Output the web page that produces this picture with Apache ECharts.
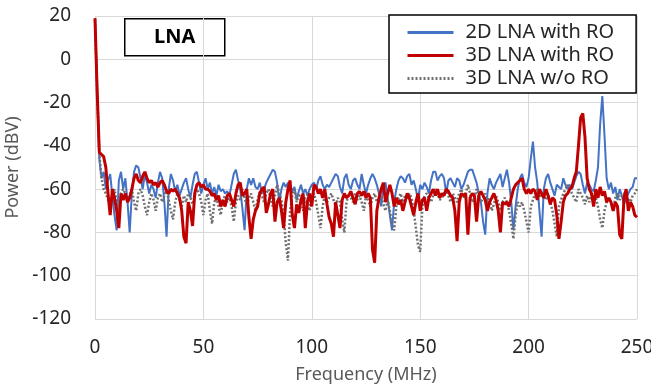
<!DOCTYPE html>
<html><head><meta charset="utf-8">
<script src="https://cdn.jsdelivr.net/npm/echarts@6/dist/echarts.min.js"></script>
<style>html,body{margin:0;padding:0;background:#fff}#c{width:651px;height:390px}</style>
</head><body><div id="c"></div>
<script>
// Frequency axis: one sample per MHz, 0..250
var freqStart = 0, freqStep = 1;
var yTicks = [-120, -100, -80, -60, -40, -20, 0, 20];
var xTicks = [0, 50, 100, 150, 200, 250];
var seriesNames = ['2D LNA with RO', '3D LNA with RO', '3D LNA w/o RO'];

var blue2D = [18,-14,-46,-55,-52,-60,-56,-53,-63,-72,-79,-56,-52,-60,-55,-66,-80,-62,-52,-49,
-50,-55,-60,-53,-57,-62,-58,-60,-64,-57,-52,-55,-66,-82,-60,-53,-56,-61,-58,-63,
-60,-57,-55,-60,-64,-58,-53,-52,-57,-62,-58,-55,-60,-57,-62,-59,-63,-58,-61,-60,
-62,-61,-63,-58,-53,-51,-56,-60,-69,-79,-60,-55,-58,-55,-59,-60,-57,-62,-60,-57,
-55,-53,-51,-52,-57,-66,-60,-57,-59,-57,-58,-61,-59,-65,-61,-58,-62,-60,-63,-60,
-58,-57,-60,-56,-54,-58,-60,-58,-59,-57,-55,-53,-54,-59,-62,-55,-53,-58,-60,-56,
-55,-58,-60,-53,-58,-62,-58,-55,-53,-55,-58,-62,-68,-58,-57,-64,-72,-79,-66,-60,
-56,-54,-55,-57,-54,-53,-58,-56,-60,-65,-58,-60,-57,-59,-62,-56,-52,-52,-56,-54,
-53,-55,-62,-56,-55,-57,-59,-55,-56,-60,-58,-55,-52,-51,-51,-54,-57,-62,-66,-75,
-81,-62,-55,-58,-60,-57,-55,-53,-59,-55,-51,-57,-66,-79,-68,-60,-55,-53,-57,-59,
-55,-46,-38,-50,-57,-70,-82,-60,-55,-53,-57,-60,-63,-58,-59,-60,-55,-58,-60,-58,
-60,-57,-54,-52,-53,-58,-62,-57,-58,-60,-61,-56,-50,-30,-17,-35,-55,-60,-57,-62,
-59,-65,-60,-63,-67,-64,-62,-60,-59,-55,-55];

var red3D = [19,-15,-43,-44,-45,-50,-62,-72,-60,-64,-70,-78,-62,-65,-62,-66,-64,-60,-55,-53,
-56,-57,-54,-52,-55,-57,-56,-58,-57,-59,-57,-56,-58,-61,-62,-60,-61,-60,-62,-64,
-70,-82,-85,-66,-70,-77,-62,-58,-57,-59,-58,-60,-60,-61,-63,-62,-65,-63,-68,-65,
-68,-63,-62,-65,-68,-62,-58,-57,-63,-62,-60,-73,-83,-74,-70,-68,-62,-60,-59,-71,
-67,-62,-60,-75,-66,-64,-70,-78,-66,-60,-56,-72,-78,-67,-71,-65,-62,-78,-66,-62,
-68,-58,-59,-62,-60,-64,-60,-67,-73,-76,-82,-66,-72,-78,-65,-62,-64,-63,-61,-64,
-67,-62,-61,-63,-61,-64,-62,-64,-88,-94,-70,-64,-60,-57,-66,-62,-58,-62,-68,-64,
-67,-65,-70,-66,-62,-64,-68,-72,-66,-62,-70,-65,-64,-70,-64,-62,-60,-63,-60,-64,
-62,-63,-60,-61,-63,-64,-70,-84,-66,-62,-63,-62,-81,-64,-62,-63,-75,-63,-61,-63,
-65,-70,-66,-64,-62,-65,-70,-80,-66,-67,-66,-68,-64,-60,-58,-57,-56,-55,-60,-62,
-60,-62,-60,-61,-65,-60,-62,-64,-60,-63,-67,-64,-65,-72,-83,-75,-66,-63,-62,-60,
-59,-55,-52,-40,-27,-25,-36,-55,-60,-62,-68,-60,-64,-59,-63,-61,-66,-64,-66,-70,
-66,-68,-81,-83,-64,-60,-70,-66,-68,-72,-73];

var gray3Dwo = [18,-15,-44,-55,-60,-62,-65,-68,-63,-60,-66,-70,-62,-60,-62,-65,-63,-60,-66,-70,
-62,-60,-63,-68,-72,-66,-62,-65,-70,-64,-62,-66,-63,-60,-65,-70,-74,-66,-62,-65,
-68,-63,-66,-62,-64,-67,-63,-60,-62,-66,-72,-65,-62,-70,-76,-66,-64,-68,-72,-65,
-63,-66,-64,-68,-75,-66,-63,-65,-60,-64,-68,-64,-62,-66,-70,-65,-61,-63,-66,-62,
-60,-64,-68,-63,-58,-62,-65,-72,-85,-93,-70,-63,-60,-66,-62,-65,-70,-64,-66,-70,
-64,-62,-66,-72,-78,-68,-63,-66,-64,-62,-65,-68,-64,-66,-74,-80,-66,-62,-64,-66,
-62,-65,-63,-66,-70,-63,-65,-68,-64,-62,-66,-64,-63,-67,-70,-65,-70,-76,-79,-68,
-64,-62,-66,-63,-65,-62,-64,-70,-78,-86,-89,-68,-63,-62,-64,-66,-63,-60,-62,-65,
-64,-62,-60,-63,-66,-62,-64,-66,-62,-60,-64,-62,-58,-62,-66,-64,-60,-63,-66,-64,
-62,-66,-64,-70,-67,-63,-66,-70,-66,-64,-66,-70,-76,-83,-72,-66,-68,-66,-70,-75,
-80,-68,-65,-62,-60,-64,-62,-63,-65,-62,-66,-70,-76,-82,-68,-65,-62,-60,-58,-60,
-62,-64,-66,-60,-62,-64,-67,-63,-66,-62,-65,-64,-68,-74,-78,-70,-66,-64,-66,-70,
-64,-62,-65,-63,-62,-66,-64,-66,-63,-62,-60];

function pairs(arr){ return arr.map(function(v,i){ return [freqStart + i*freqStep, v]; }); }

var FONT = '"Noto Sans", "Open Sans", sans-serif';
var chart = echarts.init(document.getElementById('c'), null, {renderer:'canvas'});
chart.setOption({
  animation: false,
  backgroundColor: '#ffffff',
  grid: {left: 95, right: 14, top: 16, bottom: 71, containLabel: false, outerBoundsMode: 'none'},
  xAxis: {
    type: 'value', min: xTicks[0], max: xTicks[xTicks.length-1], interval: 50,
    name: 'Frequency (MHz)', nameLocation: 'middle', nameGap: 47,
    nameTextStyle: {fontFamily: FONT, fontSize: 18, color: '#595959'},
    axisLine: {show: true, lineStyle: {color: '#d9d9d9', width: 1}},
    axisTick: {show: false},
    axisLabel: {fontFamily: FONT, fontSize: 19, color: '#262626', margin: 19},
    splitLine: {show: true, lineStyle: {color: '#d9d9d9', width: 1}}
  },
  yAxis: {
    type: 'value', min: yTicks[0], max: yTicks[yTicks.length-1], interval: 20,
    name: 'Power (dBV)', nameLocation: 'middle', nameGap: 70,
    nameTextStyle: {fontFamily: FONT, fontSize: 18, color: '#595959'},
    axisLine: {show: true, lineStyle: {color: '#d9d9d9', width: 1}},
    axisTick: {show: false},
    axisLabel: {fontFamily: FONT, fontSize: 19, color: '#262626', margin: 24},
    splitLine: {show: true, lineStyle: {color: '#d9d9d9', width: 1}}
  },
  legend: {
    orient: 'vertical', left: 389, top: 15,
    backgroundColor: '#ffffff', borderColor: '#000000', borderWidth: 1.5,
    padding: [6, 22, 3, 17], itemWidth: 46, itemHeight: 12, itemGap: 0,
    itemStyle: {opacity: 0, borderWidth: 0},
    lineStyle: {width: 3},
    textStyle: {fontFamily: FONT, fontSize: 20, color: '#262626', lineHeight: 23, padding: [0,0,0,7]},
    data: seriesNames
  },
  graphic: [
    {type: 'group', left: 124, top: 18, z: 10, children: [
      {type: 'rect', shape: {x: 0, y: 0, width: 100, height: 37},
       style: {fill: '#ffffff', stroke: '#000000', lineWidth: 1.5}},
      {type: 'text', x: 50, y: 19, style: {text: 'LNA', font: 'bold 20px ' + FONT, fill: '#000000',
        align: 'center', verticalAlign: 'middle'}}
    ]}
  ],
  series: [
    {name: seriesNames[0], type: 'line', data: pairs(blue2D), showSymbol: false, symbol: 'none',
     lineStyle: {color: '#4472C4', width: 2}, itemStyle: {color: '#4472C4'}, z: 2},
    {name: seriesNames[2], type: 'line', data: pairs(gray3Dwo), showSymbol: false, symbol: 'none',
     lineStyle: {color: '#6f6f6f', width: 2.5, type: [2, 2]}, itemStyle: {color: '#6f6f6f'}, z: 3},
    {name: seriesNames[1], type: 'line', data: pairs(red3D), showSymbol: false, symbol: 'none',
     lineStyle: {color: '#C00000', width: 3}, itemStyle: {color: '#C00000'}, z: 4}
  ]
});
</script></body></html>
